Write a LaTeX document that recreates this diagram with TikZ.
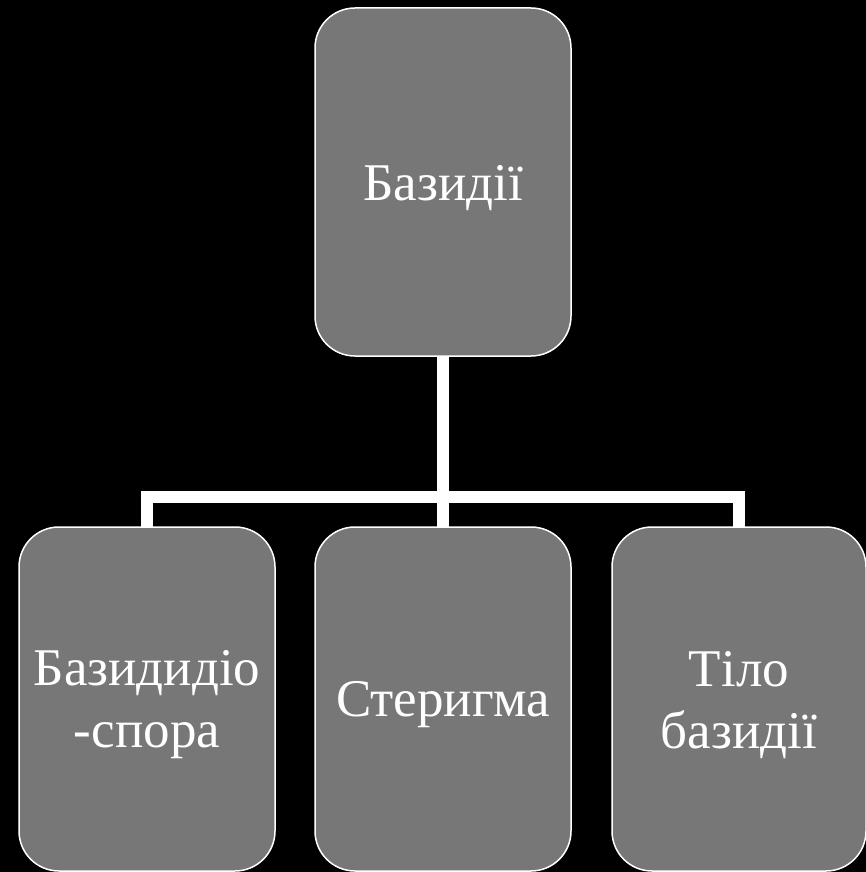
\documentclass[tikz,border=0pt]{standalone}
\usepackage{fontspec}
\setmainfont{Liberation Serif}[Ligatures=TeX]
\newfontfamily\cardfont{Liberation Serif}
\definecolor{boxgrey}{HTML}{777777}
\begin{document}
\begin{tikzpicture}[x=1pt,y=-1pt,
  cardbox/.style={rectangle, rounded corners=40pt, fill=boxgrey, draw=white,
    line width=1.5pt, minimum width=256pt, inner sep=0pt},
  cardtext/.style={text=white, align=center, yshift=-6pt, inner sep=0pt,
    font=\cardfont\fontsize{53}{62}\selectfont},
  topcard/.style={cardbox, minimum height=348pt},
  lowcard/.style={cardbox, minimum height=344pt},
  link/.style={draw=white, line width=12pt, line join=miter}]
  % page background
  \fill[black] (0,0) rectangle (866,872);
  \useasboundingbox (0,0) rectangle (866,872);

  % connectors (drawn first, cards lie over their ends)
  \coordinate (bar) at (443,496.5);
  \path (443,182) coordinate (topc) (147,699) coordinate (lc)
        (443,699) coordinate (mc) (739,699) coordinate (rc);
  \draw[link] (topc) -- (bar);
  \draw[link] (bar) -| (lc);
  \draw[link] (bar) -- (mc);
  \draw[link] (bar) -| (rc);

  % cards, each with its caption set in the middle
  \node[topcard, label={[cardtext]center:Базидії}] (root) at (topc) {};
  \node[lowcard, label={[cardtext]center:Базидидіо\\-спора}] (spore) at (lc) {};
  \node[lowcard, label={[cardtext]center:Стеригма}] (sterig) at (mc) {};
  \node[lowcard, minimum width=254pt, label={[cardtext]center:Тіло\\базидії}] (body) at (rc) {};
\end{tikzpicture}
\end{document}
